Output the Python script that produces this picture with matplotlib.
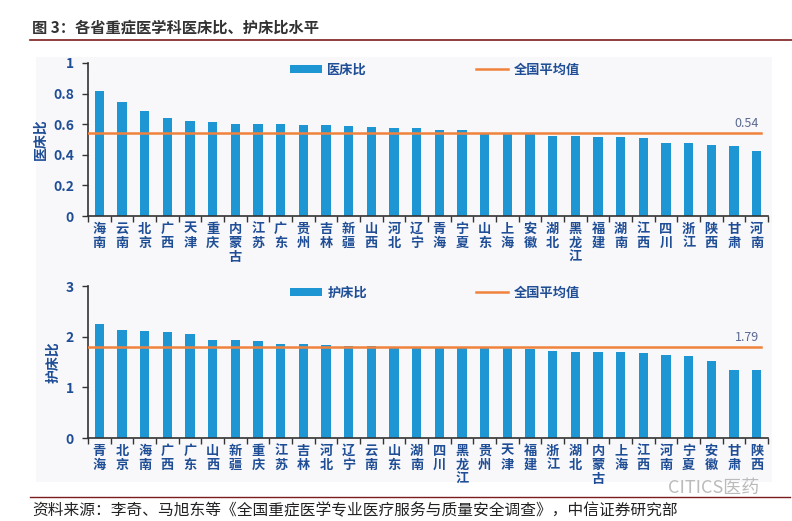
import matplotlib
matplotlib.use('Agg')
from matplotlib import pyplot as plt
from matplotlib.patches import Rectangle
from matplotlib.lines import Line2D

plt.rcParams['font.family'] = ['Noto Sans CJK SC', 'DejaVu Sans']

# 医床比
doc_provinces = ['海南', '云南', '北京', '广西', '天津', '重庆', '内蒙古', '江苏', '广东', '贵州',
                 '吉林', '新疆', '山西', '河北', '辽宁', '青海', '宁夏', '山东', '上海', '安徽',
                 '湖北', '黑龙江', '福建', '湖南', '江西', '四川', '浙江', '陕西', '甘肃', '河南']
doc_values = [0.815, 0.743, 0.689, 0.639, 0.624, 0.613, 0.604, 0.602, 0.602, 0.596,
              0.593, 0.585, 0.583, 0.576, 0.575, 0.565, 0.563, 0.539, 0.537, 0.537,
              0.524, 0.524, 0.517, 0.515, 0.513, 0.476, 0.476, 0.463, 0.457, 0.426]
doc_avg = 0.54

# 护床比
nurse_provinces = ['青海', '北京', '海南', '广西', '广东', '山西', '新疆', '重庆', '江苏', '吉林',
                   '河北', '辽宁', '云南', '山东', '湖南', '四川', '黑龙江', '贵州', '天津', '福建',
                   '浙江', '湖北', '内蒙古', '上海', '江西', '河南', '宁夏', '安徽', '甘肃', '陕西']
nurse_values = [2.245, 2.134, 2.12, 2.088, 2.05, 1.944, 1.93, 1.91, 1.865, 1.858,
                1.83, 1.82, 1.82, 1.786, 1.786, 1.775, 1.775, 1.78, 1.775, 1.765,
                1.71, 1.70, 1.70, 1.69, 1.68, 1.64, 1.62, 1.52, 1.35, 1.35]
nurse_avg = 1.79

BAR = '#1e96d4'
AVG = '#f0823c'
TXT = '#1f4e96'
DARKRED = '#7b1c1c'

W, H = 792, 521
fig = plt.figure(figsize=(W / 100, H / 100), dpi=100)


def fx(px):
    return px / W


def fy(py):
    return 1 - py / H


# light panel behind the two charts
fig.patches.append(Rectangle((fx(36), fy(482)), fx(772) - fx(36), fy(57) - fy(482),
                             transform=fig.transFigure, facecolor='#f8f8fa',
                             edgecolor='none', zorder=-10))

# title and rules
fig.text(fx(32), fy(27), '图 3：各省重症医学科医床比、护床比水平', fontsize=11,
         color='#333333', va='center', ha='left', fontweight='bold')
fig.add_artist(Line2D([fx(30), fx(792)], [fy(40), fy(40)], color=DARKRED, lw=1.2))
fig.add_artist(Line2D([fx(30), fx(790)], [fy(497), fy(497)], color=DARKRED, lw=1.0))
fig.text(fx(32), fy(511), '资料来源：李奇、马旭东等《全国重症医学专业医疗服务与质量安全调查》，中信证券研究部',
         fontsize=11.3, color='#222222', va='center', ha='left')
fig.text(fx(668), fy(488), 'CITICS医药', fontsize=13, color='#bbbbbb', va='center', ha='left')


def draw(ax, names, vals, avg, ymax, step, ylabel, avg_txt):
    n = len(names)
    x = list(range(n))
    ax.set_facecolor('none')
    bars = ax.bar(x, vals, width=0.4, color=BAR, label=ylabel, zorder=2)
    line, = ax.plot([-0.5, n - 0.8], [avg, avg], color=AVG, lw=1.8, label='全国平均值', zorder=3)
    ax.text(n - 0.9, avg + ymax * 0.025, avg_txt, ha='right', va='bottom',
            fontsize=9, color='#5a6a90')
    ax.set_xlim(-0.5, n - 0.5)
    ax.set_ylim(0, ymax)
    ticks = [i * step for i in range(int(round(ymax / step)) + 1)]
    ax.set_yticks(ticks)
    ax.set_yticklabels(['%g' % t for t in ticks], fontsize=10, fontweight='bold', color=TXT)
    ax.set_xticks(x)
    ax.set_xticklabels(['\n'.join(s) for s in names], fontsize=9.5, fontweight='bold',
                       color=TXT, linespacing=1.0)
    ax.tick_params(axis='x', length=0, pad=4)
    ax.set_xticks([i - 0.5 for i in range(n + 1)], minor=True)
    ax.tick_params(axis='x', which='minor', length=4, color='#333333', width=1)
    ax.tick_params(axis='y', length=4, color='#333333', width=1, pad=6)
    for s in ['top', 'right']:
        ax.spines[s].set_visible(False)
    for s in ['left', 'bottom']:
        ax.spines[s].set_color('#333333')
        ax.spines[s].set_linewidth(1.2)
    ax.set_ylabel(ylabel, fontsize=10, fontweight='bold', color=TXT, labelpad=4)
    ax.legend([bars, line], [ylabel, '全国平均值'], loc='upper left',
              bbox_to_anchor=(0.28, 1.08), ncol=2, frameon=False,
              handlelength=2.4, handleheight=0.5, columnspacing=8.3, handletextpad=0.4,
              labelcolor=TXT, prop={'weight': 'bold', 'size': 9.5})


ax1 = fig.add_axes([fx(88), fy(216), fx(768) - fx(88), fy(63) - fy(216)])
draw(ax1, doc_provinces, doc_values, doc_avg, 1.0, 0.2, '医床比', '0.54')

ax2 = fig.add_axes([fx(88), fy(438), fx(768) - fx(88), fy(286) - fy(438)])
draw(ax2, nurse_provinces, nurse_values, nurse_avg, 3.0, 1.0, '护床比', '1.79')

fig.savefig('out.png', dpi=100)
